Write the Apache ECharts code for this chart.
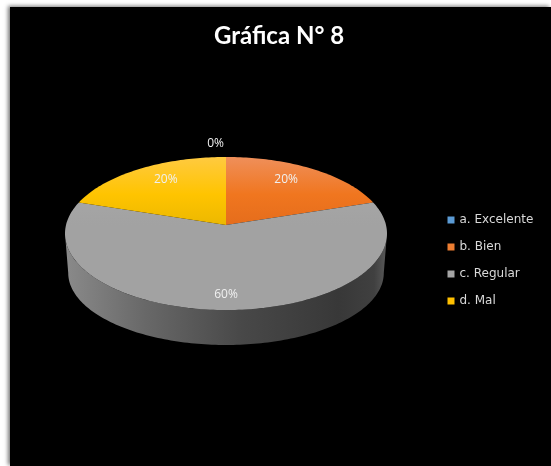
<!DOCTYPE html>
<html>
<head>
<meta charset="utf-8">
<style>
  html, body { margin: 0; padding: 0; background: #fff; width: 551px; height: 466px; overflow: hidden; }
  #panel { position: absolute; left: 10px; top: 7px; width: 541px; height: 459px; background: #000; box-shadow: -2px -1px 4px #777; }
  #chart { position: absolute; left: 0; top: 0; width: 551px; height: 466px; }
</style>
<script src="https://cdn.jsdelivr.net/npm/echarts@6/dist/echarts.min.js"></script>
</head>
<body>
<div id="panel"></div>
<div id="chart"></div>
<script>
// Survey results, in percent
const categories = ['a. Excelente', 'b. Bien', 'c. Regular', 'd. Mal'];
const percentages = [0, 20, 60, 20];

const swatchColors = ['#5b9bd5', '#ed7d31', '#a5a5a5', '#ffc000'];
const topGradients = [
  ['#7fb1df', '#5b9bd5', '#4a8ac6'],
  ['#ef8f5a', '#f0761f', '#e56d1c'],
  ['#a9a9a9', '#a6a6a6', '#a2a2a2'],
  ['#ffca40', '#ffc400', '#ecb800']
];

// Tilted disc, projected with a slight perspective so the far half looks shorter
const disc = { cx: 226, cy: 225, rx: 160, ry: 75.6, persp: 0.111 };
const wall = { scaleX: 0.98, scaleY: 0.94, midY: 233.5, drop: 39.5 };
const labelReach = { x: 0.64, y: 0.8 };

function project(theta, r) {
  const u = Math.sin(theta) * r;
  const v = Math.cos(theta) * r;
  const w = 1 + disc.persp * v;
  return [disc.cx + disc.rx * u / w, disc.cy - disc.ry * v / w];
}

function lowerRim(p) {
  return [
    disc.cx + (p[0] - disc.cx) * wall.scaleX,
    wall.midY + wall.drop + (p[1] - wall.midY) * wall.scaleY
  ];
}

function arcPoints(from, to) {
  const steps = Math.max(2, Math.ceil((to - from) / 0.02));
  const pts = [];
  for (let i = 0; i <= steps; i++) {
    pts.push(project(from + (to - from) * i / steps, 1));
  }
  return pts;
}

const total = percentages.reduce((a, b) => a + b, 0);
const startAngles = [];
percentages.reduce((sum, p, i) => { startAngles[i] = sum / total * Math.PI * 2; return sum + p; }, 0);

function drawSlice(index) {
  return function (params, api) {
    const value = api.value(0);
    const start = startAngles[index];
    const end = start + value / total * Math.PI * 2;
    const children = [];

    // Visible part of the outer wall: the front of the rim only
    const edge = Math.acos(-disc.persp);
    const wallFrom = Math.max(start, edge);
    const wallTo = Math.min(end, Math.PI * 2 - edge);
    if (wallTo > wallFrom) {
      const front = arcPoints(wallFrom, wallTo);
      children.push({
        type: 'polygon',
        shape: { points: front.concat(front.map(lowerRim).reverse()) },
        style: {
          fill: {
            type: 'linear', x: 65, y: 0, x2: 387, y2: 0, global: true,
            colorStops: [
              { offset: 0, color: '#8a8a8a' },
              { offset: 0.25, color: '#686868' },
              { offset: 0.55, color: '#484848' },
              { offset: 0.85, color: '#383838' },
              { offset: 0.96, color: '#404040' },
              { offset: 1, color: '#5a5a5a' }
            ]
          }
        }
      });
    }

    // Top face
    if (value > 0) {
      const stops = topGradients[index];
      children.push({
        type: 'polygon',
        shape: { points: [project(0, 0)].concat(arcPoints(start, end)) },
        style: {
          fill: {
            type: 'linear', x: 0, y: 157, x2: 0, y2: 225, global: true,
            colorStops: [
              { offset: 0, color: stops[0] },
              { offset: 0.55, color: stops[1] },
              { offset: 1, color: stops[2] }
            ]
          }
        }
      });
    }

    // Percent label: inside the face, or above the rim for an empty slice
    const mid = (start + end) / 2;
    let lx, ly, align = 'center';
    if (value > 0) {
      lx = disc.cx + disc.rx * Math.sin(mid) * labelReach.x;
      ly = project(mid, labelReach.y)[1] + (Math.cos(mid) < 0 ? 3 : 0);
    } else {
      lx = project(mid, 1)[0] - 2;
      ly = project(mid, 1.22)[1];
      align = 'right';
    }
    children.push({
      type: 'text',
      z2: 10,
      style: {
        x: lx, y: ly, text: value + '%',
        fill: '#f0f0f0', font: '12px "Open Sans", sans-serif',
        align: align, verticalAlign: 'middle'
      }
    });

    return { type: 'group', children: children };
  };
}

const chart = echarts.init(document.getElementById('chart'), null, { renderer: 'canvas' });
chart.setOption({
  backgroundColor: 'transparent',
  animation: false,
  title: {
    text: 'Gráfica N° 8',
    left: 274, top: 19, textAlign: 'center',
    textStyle: { color: '#fff', fontFamily: 'Lato', fontWeight: 'bold', fontSize: 24 }
  },
  legend: {
    orient: 'vertical',
    left: 447.5, top: 213,
    padding: 0,
    itemWidth: 7, itemHeight: 7, itemGap: 13,
    icon: 'rect',
    selectedMode: false,
    data: categories,
    textStyle: { color: '#d9d9d9', fontFamily: 'DejaVu Sans', fontSize: 12, lineHeight: 14 }
  },
  series: categories.map((name, i) => ({
    type: 'custom',
    name: name,
    coordinateSystem: 'none',
    itemStyle: { color: swatchColors[i] },
    renderItem: drawSlice(i),
    silent: true,
    data: [[percentages[i]]]
  }))
});
</script>
</body>
</html>
